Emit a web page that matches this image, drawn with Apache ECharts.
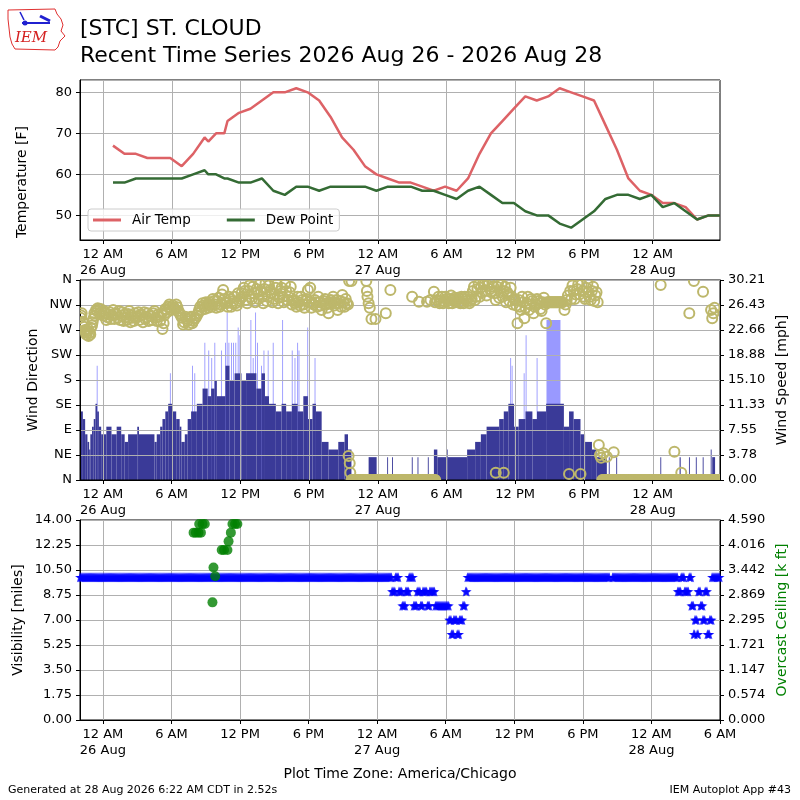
<!DOCTYPE html>
<html>
<head>
<meta charset="utf-8">
<script src="https://cdn.jsdelivr.net/npm/echarts@6.0.0/dist/echarts.min.js"></script>
<style>
html, body { margin: 0; padding: 0; background: #fff; }
#chart { width: 800px; height: 800px; }
</style>
</head>
<body>
<div id="chart"></div>
<script>
// all times are hours since 26 Aug 2026 00:00 America/Chicago
const xTickHours = [0, 6, 12, 18, 24, 30, 36, 42, 48, 54];
const xTickLabels = ['12 AM\n26 Aug', '6 AM', '12 PM', '6 PM', '12 AM\n27 Aug', '6 AM', '12 PM', '6 PM', '12 AM\n28 Aug', '6 AM'];
const dirTickLabels = ['N', 'NE', 'E', 'SE', 'S', 'SW', 'W', 'NW', 'N'];

// hourly (and special) observations, deg F
const obsHours = [0.88, 1.88, 2.88, 3.88, 4.88, 5.88, 6.88, 7.88, 8.88, 9.2, 9.88, 10.6, 10.88,
  11.88, 12.88, 13.88, 14.88, 15.88, 16.88, 17.88, 18.88, 19.88, 20.88, 21.88, 22.88, 23.88,
  24.88, 25.88, 26.88, 27.88, 28.88, 29.88, 30.88, 31.88, 32.88, 33.88, 34.88, 35.88, 36.88,
  37.88, 38.88, 39.88, 40.88, 41.88, 42.88, 43.88, 44.88, 45.88, 46.88, 47.88, 48.88, 49.88,
  50.88, 51.88, 52.88, 53.88];
const airTemp = [67, 65, 65, 64, 64, 64, 62, 65, 69, 68, 70, 70, 73,
  75, 76, 78, 80, 80, 81, 80, 78, 74, 69, 66, 62, 60,
  59, 58, 58, 57, 56, 57, 56, 59, 65, 70, 73, 76, 79,
  78, 79, 81, 80, 79, 78, 72, 66, 59, 56, 55, 53, 53,
  52, 49, 50, 50];
const dewPoint = [58, 58, 59, 59, 59, 59, 59, 60, 61, 60, 60, 59, 59,
  58, 58, 59, 56, 55, 57, 57, 56, 57, 57, 57, 57, 56,
  57, 57, 57, 56, 56, 55, 54, 56, 57, 55, 53, 53, 51,
  50, 50, 48, 47, 49, 51, 54, 55, 55, 54, 55, 52, 53,
  51, 49, 50, 50];

// sustained wind [start, end, knots]
const windRuns = [
  [-2.0, -1.75, 9], [-1.75, -1.55, 8], [-1.55, -1.35, 6], [-1.35, -1.2, 5], [-1.2, -1.1, 4],
  [-1.1, -0.95, 6], [-0.95, -0.8, 7], [-0.8, -0.65, 8], [-0.65, -0.5, 10], [-0.5, -0.35, 9],
  [-0.35, -0.15, 7], [-0.15, 0.3, 6], [0.3, 0.75, 7], [0.75, 1.2, 6], [1.2, 1.6, 7],
  [1.6, 1.9, 6], [1.9, 2.2, 5], [2.2, 3.0, 6], [3.0, 3.15, 7], [3.15, 4.5, 6],
  [4.5, 4.7, 5], [4.7, 5.0, 6], [5.0, 5.2, 7], [5.2, 5.45, 8], [5.45, 5.7, 9],
  [5.7, 6.1, 10], [6.1, 6.4, 9], [6.4, 6.7, 8], [6.7, 6.85, 7], [6.85, 7.15, 5],
  [7.15, 7.4, 6], [7.4, 7.7, 8], [7.7, 8.2, 9], [8.2, 8.7, 10], [8.7, 9.15, 12],
  [9.15, 9.45, 11], [9.45, 9.75, 12], [9.75, 9.95, 13], [9.95, 10.7, 11], [10.7, 11.05, 15],
  [11.05, 11.5, 13], [11.5, 12.1, 14], [12.1, 12.5, 13], [12.5, 13.4, 14], [13.4, 13.85, 12],
  [13.85, 14.15, 14], [14.15, 14.5, 11], [14.5, 15.1, 10], [15.1, 15.6, 9], [15.6, 16.0, 10],
  [16.0, 16.5, 9], [16.5, 17.0, 10], [17.0, 17.5, 9], [17.5, 17.9, 11], [17.9, 18.3, 8],
  [18.3, 18.6, 10], [18.6, 19.1, 9], [19.1, 19.7, 5], [19.7, 20.55, 4], [20.55, 21.1, 5],
  [21.1, 21.4, 6], [21.4, 21.7, 4],
  [23.2, 23.9, 3], [24.82, 24.88, 3], [25.25, 25.31, 3], [26.97, 27.03, 3], [27.47, 27.53, 3],
  [28.37, 28.43, 3], [28.9, 29.2, 4], [29.2, 30.0, 3], [30.0, 30.1, 4], [30.1, 31.8, 3],
  [31.8, 32.5, 4], [32.5, 33.0, 5], [33.0, 33.5, 6], [33.5, 34.6, 7], [34.6, 35.0, 8],
  [35.0, 35.4, 9], [35.4, 35.9, 10], [35.9, 36.3, 7], [36.3, 36.9, 8], [36.9, 37.5, 9],
  [37.5, 37.9, 8], [37.9, 38.7, 9], [38.7, 40.25, 10], [40.25, 40.7, 7], [40.7, 41.1, 9],
  [41.1, 41.7, 8], [41.7, 42.1, 6], [42.1, 42.7, 5], [42.7, 43.1, 4], [43.1, 44.0, 3],
  [44.17, 44.23, 3], [44.82, 44.88, 3], [48.67, 48.73, 3], [50.35, 50.45, 3], [51.17, 51.23, 3],
  [51.77, 51.83, 3], [52.37, 52.43, 3], [53.07, 53.13, 4], [53.2, 53.45, 3]
];
// gusts [hour, knots] and a wide gust block [start, end, knots]
const gustSpikes = [
  [-0.5, 15], [5.89, 14], [7.82, 15], [8.02, 14], [8.9, 18], [9.24, 17], [9.5, 16], [9.77, 18],
  [10.35, 17], [10.7, 18], [10.85, 22], [11.0, 18], [11.23, 18], [11.4, 18], [11.6, 18],
  [11.81, 20], [11.96, 19], [12.92, 21], [13.12, 16], [13.33, 22], [13.5, 18], [13.85, 15],
  [14.06, 17], [14.43, 17], [14.87, 18], [15.69, 21], [16.53, 17], [16.77, 16], [17.0, 18],
  [17.12, 17], [17.88, 20], [18.52, 16], [35.6, 16], [35.73, 15], [36.78, 14], [36.95, 19],
  [37.91, 16]
];
const gustBlocks = [[38.73, 39.95, 21]];

// wind direction [hour, degrees]
const windDir = [
  [-1.95, 292], [-1.9, 296], [-1.85, 300], [-1.75, 285], [-1.7, 282], [-1.65, 276], [-1.55, 270],
  [-1.5, 266], [-1.45, 262], [-1.35, 268], [-1.3, 272], [-1.25, 259], [-1.15, 265], [-1.1, 262],
  [-1.05, 274], [-0.95, 278], [-0.9, 284], [-0.85, 290], [-0.75, 300], [-0.7, 296], [-0.6, 306],
  [-0.5, 304], [-0.45, 309], [-0.3, 300], [-0.2, 308], [-0.15, 303],
  [0.0, 296], [0.1, 304], [0.2, 300], [0.3, 288], [0.4, 293], [0.5, 298], [0.6, 302], [0.7, 290],
  [0.8, 296], [0.9, 306], [1.0, 290], [1.1, 300], [1.2, 298], [1.3, 292], [1.4, 304], [1.5, 288],
  [1.6, 296], [1.7, 302], [1.8, 286], [1.9, 298], [2.0, 293], [2.1, 288], [2.2, 299], [2.3, 304],
  [2.4, 284], [2.5, 296], [2.6, 292], [2.7, 286], [2.8, 300], [2.9, 292], [3.0, 295], [3.1, 302],
  [3.2, 288], [3.3, 296], [3.4, 297], [3.5, 284], [3.6, 302], [3.7, 290], [3.8, 293], [3.9, 300],
  [4.0, 286], [4.1, 296], [4.2, 295], [4.3, 288], [4.4, 300], [4.5, 304], [4.6, 292], [4.7, 286],
  [4.8, 298], [4.9, 294], [5.0, 286], [5.1, 300], [5.2, 272], [5.3, 282], [5.35, 296], [5.45, 308],
  [5.5, 306], [5.6, 302], [5.7, 312], [5.8, 316], [5.9, 310], [6.0, 306], [6.1, 314], [6.2, 310],
  [6.3, 308], [6.4, 316], [6.5, 311], [6.6, 304], [6.7, 300], [6.8, 296],
  [6.9, 292], [7.0, 280], [7.1, 284], [7.2, 294], [7.3, 290], [7.4, 286], [7.5, 280], [7.6, 292],
  [7.7, 294], [7.8, 282], [7.9, 286], [8.0, 290], [8.1, 292], [8.2, 296], [8.3, 300], [8.4, 306],
  [8.5, 312], [8.6, 306], [8.7, 318], [8.8, 314], [8.9, 308], [9.0, 320], [9.1, 314], [9.2, 310],
  [9.3, 320], [9.4, 316], [9.5, 312], [9.6, 326], [9.7, 322], [9.8, 316], [9.9, 310], [10.0, 322],
  [10.1, 328], [10.2, 312], [10.3, 316], [10.4, 334], [10.5, 342], [10.6, 326], [10.7, 320],
  [10.8, 318], [10.9, 312], [11.0, 330], [11.1, 326], [11.2, 312], [11.3, 318], [11.4, 322],
  [11.5, 330], [11.6, 318], [11.7, 314], [11.8, 336], [11.9, 322], [12.0, 326],
  [12.1, 336], [12.2, 330], [12.3, 346], [12.4, 340], [12.5, 324], [12.6, 318], [12.7, 340],
  [12.8, 350], [12.9, 330], [13.0, 326], [13.1, 348], [13.2, 336], [13.3, 320], [13.4, 344],
  [13.5, 338], [13.6, 326], [13.7, 352], [13.8, 340], [13.9, 330], [14.0, 318], [14.1, 344],
  [14.2, 354], [14.3, 322], [14.4, 330], [14.5, 350], [14.6, 342], [14.7, 336], [14.8, 320],
  [14.9, 326], [15.0, 334], [15.1, 346], [15.2, 352], [15.3, 318], [15.4, 328], [15.5, 340],
  [15.6, 346], [15.7, 330], [15.8, 320], [15.9, 352], [16.0, 340], [16.1, 324], [16.2, 330],
  [16.3, 338], [16.4, 348], [16.5, 316], [16.6, 322], [16.7, 324], [16.8, 318], [16.9, 312],
  [17.0, 330], [17.1, 320], [17.2, 314], [17.3, 330], [17.4, 324], [17.5, 316], [17.6, 310],
  [17.7, 322], [17.8, 326], [17.9, 342], [18.0, 320], [18.1, 346], [18.2, 310], [18.3, 318],
  [18.4, 316], [18.5, 324], [18.6, 320], [18.7, 312], [18.8, 330], [18.9, 320], [19.0, 314],
  [19.1, 306], [19.2, 318], [19.3, 322], [19.4, 326], [19.5, 316], [19.6, 310], [19.7, 300],
  [19.8, 318], [19.9, 324], [20.0, 320], [20.1, 330], [20.2, 314], [20.3, 318], [20.4, 324],
  [20.5, 306], [20.6, 318], [20.7, 322], [20.8, 312], [20.9, 333], [21.0, 320], [21.1, 312],
  [21.2, 326], [21.3, 318], [21.4, 316],
  [21.45, 43], [21.55, 30], [21.6, 13], [21.5, 358], [21.7, 358],
  [23.0, 358], [23.05, 340], [23.1, 330], [23.2, 318], [23.3, 310], [23.45, 290], [23.8, 290],
  [24.7, 300], [25.1, 342],
  [27.0, 330], [27.6, 321], [28.3, 321], [28.6, 324], [28.9, 339], [29.0, 320],
  [29.2, 324], [29.3, 330], [29.4, 318], [29.5, 322], [29.6, 330], [29.7, 318], [29.8, 322],
  [29.9, 330], [30.0, 326], [30.1, 322], [30.2, 318], [30.3, 326], [30.4, 332], [30.5, 318],
  [30.6, 324], [30.7, 328], [30.8, 320], [30.9, 324], [31.0, 328], [31.1, 320], [31.2, 318],
  [31.3, 330], [31.4, 326], [31.5, 318], [31.6, 330], [31.7, 326], [31.8, 322], [31.9, 330],
  [32.0, 318], [32.1, 322], [32.2, 326], [32.3, 340], [32.4, 348], [32.5, 324], [32.6, 330],
  [32.7, 344], [32.8, 352], [32.9, 330], [33.0, 346], [33.1, 338], [33.2, 354], [33.3, 352],
  [33.4, 340], [33.5, 332], [33.6, 350], [33.7, 356], [33.8, 344], [33.9, 338], [34.0, 356],
  [34.1, 348], [34.2, 336], [34.3, 324], [34.4, 348], [34.5, 354], [34.6, 328], [34.7, 338],
  [34.8, 352], [34.9, 330], [35.0, 340], [35.1, 348], [35.2, 320], [35.3, 338], [35.4, 334],
  [35.5, 322], [35.6, 346], [35.7, 330], [35.8, 316], [35.9, 326], [34.3, 13], [35.0, 13],
  [36.0, 324], [36.1, 314], [36.2, 282], [36.3, 324], [36.4, 312], [36.5, 306], [36.6, 330],
  [36.7, 320], [36.8, 291], [36.9, 310], [37.0, 318], [37.1, 330], [37.2, 306], [37.3, 316],
  [37.4, 326], [37.5, 322], [37.6, 300], [37.7, 312], [37.8, 316], [37.9, 326], [38.0, 322],
  [38.1, 318], [38.2, 308], [38.3, 304], [38.4, 320], [38.5, 328], [38.6, 316], [38.7, 282],
  [40.3, 306], [40.4, 316], [40.5, 324], [40.6, 332], [40.7, 11], [40.8, 340], [40.9, 326],
  [41.0, 350], [41.1, 340], [41.2, 326], [41.3, 334], [41.4, 344], [41.5, 352], [41.6, 334],
  [41.7, 11], [41.8, 352], [41.9, 340], [42.0, 330], [42.1, 326], [42.2, 346], [42.3, 354],
  [42.4, 338], [42.5, 330], [42.6, 324], [42.7, 340], [42.8, 348], [42.9, 322], [43.0, 332],
  [43.1, 338], [43.2, 320],
  [43.3, 63], [43.4, 45], [43.5, 40], [43.7, 48], [44.0, 42], [44.6, 50],
  [48.7, 351], [49.9, 51], [50.5, 13], [51.2, 300], [51.6, 358], [52.4, 339],
  [53.1, 306], [53.2, 291], [53.3, 300], [53.4, 310]
];
// steady direction stretches [start, end, degrees] (0 = calm)
const dirRuns = [[21.7, 23.4, 0], [23.6, 29.1, 0], [38.8, 40.2, 320], [43.6, 53.9, 0]];

// visibility [start, end, miles]
const visRuns = [
  [-2.0, 25.3, 10], [25.3, 25.6, 9], [25.6, 25.9, 10], [25.9, 26.2, 9], [26.2, 26.5, 8],
  [26.5, 26.8, 9], [26.8, 27.2, 10], [27.2, 27.5, 8], [27.5, 27.8, 9], [27.8, 28.0, 8],
  [28.0, 28.4, 9], [28.4, 28.6, 8], [28.6, 29.1, 9], [29.1, 30.3, 8], [30.3, 30.5, 7],
  [30.5, 30.7, 6], [30.7, 31.0, 7], [31.0, 31.2, 6], [31.2, 31.5, 7], [31.5, 31.75, 8],
  [31.75, 31.9, 9], [31.9, 44.4, 10], [44.6, 50.3, 10], [50.3, 50.6, 9], [50.6, 50.9, 10],
  [50.9, 51.3, 9], [51.3, 51.5, 10], [51.5, 51.7, 8], [51.7, 51.8, 6], [51.8, 52.0, 7],
  [52.0, 52.1, 6], [52.1, 52.3, 9], [52.3, 52.5, 8], [52.5, 52.7, 7], [52.7, 52.9, 9],
  [52.9, 53.1, 6], [53.1, 53.3, 7], [53.3, 54.0, 10]
];
// overcast ceiling [hour, thousand ft]
const ceilPts = [
  [7.94, 4.3], [8.14, 4.3], [8.37, 4.3], [8.58, 4.3], [8.43, 4.5], [8.72, 4.5], [8.92, 4.5],
  [9.59, 2.7], [9.68, 3.5], [9.83, 3.3], [10.4, 3.9], [10.6, 3.9], [10.9, 3.9], [11.0, 4.1],
  [11.2, 4.3], [11.34, 4.5], [11.57, 4.5], [11.77, 4.5]
];

const KT2MPH = 1.15078;
const STEP = 1 / 12; // 5 minute observations

function expandRuns(runs) {
  const out = [];
  runs.forEach(([a, b, v]) => {
    for (let t = a; t < b - 1e-6; t += STEP) out.push([t, v]);
  });
  return out;
}

function barItem(color) {
  return function (params, api) {
    const a = api.coord([api.value(0), api.value(2)]);
    const b = api.coord([api.value(1), 0]);
    return {
      type: 'rect',
      shape: { x: a[0], y: a[1], width: Math.max(b[0] - a[0], 0.9), height: b[1] - a[1] },
      style: { fill: color }
    };
  };
}

// vertical grid line at each x tick
function vGridItem(params, api) {
  const p = api.coord([api.value(0), api.value(1)]);
  const x = Math.round(p[0]) + 0.5;
  const cs = params.coordSys;
  return {
    type: 'line',
    shape: { x1: x, y1: cs.y, x2: x, y2: cs.y + cs.height },
    style: { stroke: '#b0b0b0', lineWidth: 1 }
  };
}

function ringItem(params, api) {
  const p = api.coord([api.value(0), api.value(1)]);
  return {
    type: 'circle',
    shape: { cx: p[0], cy: p[1], r: 5 },
    style: { fill: 'none', stroke: '#bdb76b', lineWidth: 2 }
  };
}

const starPath = 'path://M0,-10L2.35,-3.24L9.51,-3.09L3.8,1.24L5.88,8.09L0,4L-5.88,8.09L-3.8,1.24L-9.51,-3.09L-2.35,-3.24Z';

const tickFmt = v => {
  const i = xTickHours.indexOf(v);
  return i >= 0 ? xTickLabels[i] : '';
};

function xAxis(gridIndex, max) {
  return {
    type: 'value', gridIndex, min: -2, max,
    axisLine: { show: true, onZero: false, lineStyle: { color: '#000' } },
    axisTick: { show: true, length: 4, customValues: xTickHours, lineStyle: { color: '#000' } },
    axisLabel: { customValues: xTickHours, formatter: tickFmt, color: '#000', fontSize: 13, lineHeight: 16, margin: 7 },
    splitLine: { show: false }
  };
}

function yAxis(gridIndex, opts) {
  return Object.assign({
    type: 'value', gridIndex,
    axisLine: { show: true, onZero: false, lineStyle: { color: '#000' } },
    axisTick: { show: true, length: 4, lineStyle: { color: '#000' } },
    splitLine: { show: true, lineStyle: { color: '#b0b0b0', width: 1 } }
  }, opts);
}

const lbl = (fmt, extra) => Object.assign({ color: '#000', fontSize: 13, margin: 8, formatter: fmt }, extra || {});

function vGrid(xi, yi, yv, max) {
  return {
    type: 'custom', xAxisIndex: xi, yAxisIndex: yi, z: 0, clip: false, silent: true,
    renderItem: vGridItem,
    data: xTickHours.filter(h => h <= max).map(h => [h, yv])
  };
}

const nameFont = '14px "DejaVu Sans"';

const chart = echarts.init(document.getElementById('chart'));

const option = {
  animation: false,
  backgroundColor: '#fff',
  textStyle: { fontFamily: 'DejaVu Sans' },
  grid: [
    { left: 80, top: 80, width: 640, height: 160, show: true, borderColor: '#000', borderWidth: 1, outerBoundsMode: 'none' },
    { left: 80, top: 280, width: 640, height: 200, show: true, borderColor: '#000', borderWidth: 1, outerBoundsMode: 'none' },
    { left: 80, top: 520, width: 640, height: 200, show: true, borderColor: '#000', borderWidth: 1, outerBoundsMode: 'none' }
  ],
  legend: {
    data: ['Air Temp', 'Dew Point'],
    left: 88, top: 209,
    icon: 'rect', itemWidth: 28, itemHeight: 3, itemGap: 36,
    padding: [4, 6, 4, 5],
    borderColor: '#cccccc', borderWidth: 1, borderRadius: 3,
    backgroundColor: 'rgba(255,255,255,0.8)',
    textStyle: { color: '#000', fontSize: 13.5, padding: [0, 0, 0, 6] }
  },
  xAxis: [xAxis(0, 53.88), xAxis(1, 53.88), xAxis(2, 54)],
  yAxis: [
    yAxis(0, { min: 44, max: 83, minInterval: 10, maxInterval: 10,
      axisLabel: lbl(v => String(v), { showMinLabel: false, showMaxLabel: false }) }),
    yAxis(1, { min: 0, max: 360, interval: 45, axisLabel: lbl(v => dirTickLabels[Math.round(v / 45)]) }),
    yAxis(1, { position: 'right', min: 0, max: 30.208, interval: 30.208 / 8,
      splitLine: { show: false }, axisLabel: lbl(v => v.toFixed(2)) }),
    yAxis(2, { min: 0, max: 14, interval: 1.75, axisLabel: lbl(v => v.toFixed(2)) }),
    yAxis(2, { position: 'right', min: 0, max: 4.5898, interval: 4.5898 / 8,
      splitLine: { show: false }, axisLabel: lbl(v => v.toFixed(3)) })
  ],
  series: [
    vGrid(0, 0, 60, 53.88),
    vGrid(1, 1, 180, 53.88),
    vGrid(2, 3, 7, 54),
    {
      name: 'Air Temp', type: 'line', xAxisIndex: 0, yAxisIndex: 0,
      data: obsHours.map((h, i) => [h, airTemp[i]]),
      showSymbol: false, color: '#dd6266', lineStyle: { width: 2.5, color: '#dd6266' }
    },
    {
      name: 'Dew Point', type: 'line', xAxisIndex: 0, yAxisIndex: 0,
      data: obsHours.map((h, i) => [h, dewPoint[i]]),
      showSymbol: false, color: '#346b34', lineStyle: { width: 2.5, color: '#346b34' }
    },
    {
      name: 'Gust', type: 'custom', xAxisIndex: 1, yAxisIndex: 2, z: -1, clip: true,
      renderItem: barItem('#9999ff'),
      encode: { x: [0, 1], y: 2 },
      data: gustSpikes.map(([h, k]) => [h - 0.04, h + 0.04, k * KT2MPH])
        .concat(gustBlocks.map(([a, b, k]) => [a, b, k * KT2MPH]))
    },
    {
      name: 'Wind Speed', type: 'custom', xAxisIndex: 1, yAxisIndex: 2, z: -1, clip: true,
      renderItem: barItem('#3a3a98'),
      encode: { x: [0, 1], y: 2 },
      data: windRuns.map(([a, b, k]) => [a, b, k * KT2MPH])
    },
    {
      name: 'Wind Direction', type: 'custom', xAxisIndex: 1, yAxisIndex: 1, clip: true,
      renderItem: ringItem,
      encode: { x: 0, y: 1 },
      data: windDir.concat(expandRuns(dirRuns))
    },
    {
      name: 'Visibility', type: 'scatter', xAxisIndex: 2, yAxisIndex: 3,
      symbol: starPath, symbolSize: 10,
      itemStyle: { color: '#0000ff' },
      data: expandRuns(visRuns)
    },
    {
      name: 'Ceiling', type: 'scatter', xAxisIndex: 2, yAxisIndex: 4,
      symbol: 'circle', symbolSize: 10,
      itemStyle: { color: '#008000' },
      data: ceilPts
    }
  ],
  graphic: [
    // logo
    { type: 'polygon', shape: { points: [[8, 10], [55, 9], [57, 14], [61, 19], [63, 25], [61, 31], [65, 36], [60, 41], [58, 47], [55, 50], [15, 49], [12, 44], [10, 37], [9, 28], [8, 19]] },
      style: { fill: 'none', stroke: '#e03030', lineWidth: 1 } },
    { type: 'line', shape: { x1: 22, y1: 23, x2: 50, y2: 23 }, style: { stroke: '#2020d0', lineWidth: 2 } },
    { type: 'line', shape: { x1: 20, y1: 12, x2: 24, y2: 20 }, style: { stroke: '#2020d0', lineWidth: 1.5 } },
    { type: 'line', shape: { x1: 40, y1: 16, x2: 50, y2: 21 }, style: { stroke: '#2020d0', lineWidth: 3 } },
    { type: 'circle', shape: { cx: 25, cy: 23, r: 2.5 }, style: { fill: '#2020d0' } },
    { type: 'text', x: 31, y: 38, style: { text: 'IEM', font: 'italic 15px "DejaVu Serif", "Liberation Serif", serif', fill: '#d42020', align: 'center', verticalAlign: 'middle' } },
    // titles
    { type: 'text', x: 80, y: 29, style: { text: '[STC] ST. CLOUD', font: '22px "DejaVu Sans"', fill: '#000', verticalAlign: 'middle' } },
    { type: 'text', x: 80, y: 56, style: { text: 'Recent Time Series 2026 Aug 26 - 2026 Aug 28', font: '22px "DejaVu Sans"', fill: '#000', verticalAlign: 'middle' } },
    // axis names
    { type: 'text', x: 22, y: 182, rotation: Math.PI / 2, style: { text: 'Temperature [F]', font: nameFont, fill: '#000', align: 'center', verticalAlign: 'middle' } },
    { type: 'text', x: 33, y: 380, rotation: Math.PI / 2, style: { text: 'Wind Direction', font: nameFont, fill: '#000', align: 'center', verticalAlign: 'middle' } },
    { type: 'text', x: 782, y: 380, rotation: Math.PI / 2, style: { text: 'Wind Speed [mph]', font: nameFont, fill: '#000', align: 'center', verticalAlign: 'middle' } },
    { type: 'text', x: 18, y: 620, rotation: Math.PI / 2, style: { text: 'Visibility [miles]', font: nameFont, fill: '#000', align: 'center', verticalAlign: 'middle' } },
    { type: 'text', x: 782, y: 620, rotation: Math.PI / 2, style: { text: 'Overcast Ceiling [k ft]', font: nameFont, fill: '#008000', align: 'center', verticalAlign: 'middle' } },
    { type: 'text', x: 400, y: 774, style: { text: 'Plot Time Zone: America/Chicago', font: nameFont, fill: '#000', align: 'center', verticalAlign: 'middle' } },
    { type: 'text', x: 8, y: 790, style: { text: 'Generated at 28 Aug 2026 6:22 AM CDT in 2.52s', font: '11px "DejaVu Sans"', fill: '#000', verticalAlign: 'middle' } },
    { type: 'text', x: 791, y: 790, style: { text: 'IEM Autoplot App #43', font: '11px "DejaVu Sans"', fill: '#000', align: 'right', verticalAlign: 'middle' } }
  ]
};

chart.setOption(option);
</script>
</body>
</html>
